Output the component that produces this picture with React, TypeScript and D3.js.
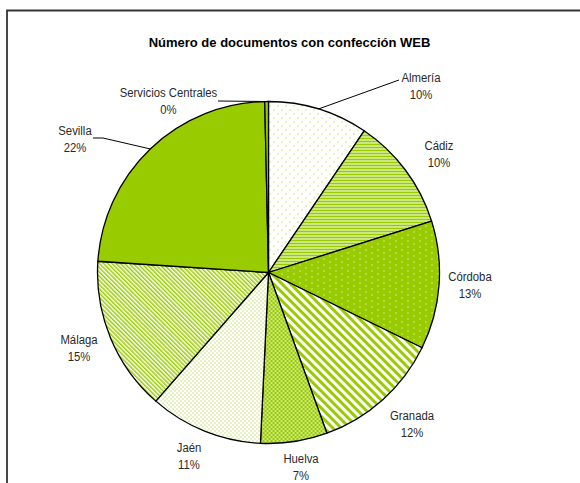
import React from "react";
import * as d3 from "d3";

const categories = ["Almería", "Cádiz", "Córdoba", "Granada", "Huelva", "Jaén", "Málaga", "Sevilla", "Servicios Centrales"];
const values = [9.45, 10.7, 12.1, 12.2, 6.3, 10.7, 14.6, 23.6, 0.35];
const percentLabels = ["10%", "10%", "13%", "12%", "7%", "11%", "15%", "22%", "0%"];
const fills = ["url(#dotsSparse)", "url(#hLines)", "url(#dotsWhite)", "url(#wideDiag)", "url(#dashWhite)", "url(#dotsDense)", "url(#narrowDiag)", "#99cc00", "#99cc00"];
const title = "Número de documentos con confección WEB";

// label layout: [center x, first baseline y]
const labelPos: [number, number][] = [
  [421, 82], [439, 150], [470, 281], [412, 420], [301, 463], [189, 452], [79, 344], [75, 135], [168.5, 97],
];
// leader lines: slice index -> extra points after the arc point
const leaders: { i: number; pts: [number, number][] }[] = [
  { i: 0, pts: [[399, 80]] },
  { i: 7, pts: [[103, 138], [93, 138]] },
  { i: 8, pts: [[218, 101]] },
];

const G = "#99cc00";
const W = 580, H = 483;
const cx = 268.5, cy = 272.5, R = 171;

export default function App() {
  const pie = d3.pie<number>().sort(null).startAngle(0).endAngle(2 * Math.PI);
  const arcs = pie(values);
  const arc = d3.arc<d3.PieArcDatum<number>>().innerRadius(0).outerRadius(R);
  const labelFont = "'Liberation Sans', Arial, sans-serif";
  return (
    <svg width={W} height={H} style={{ position: "absolute", left: 0, top: 0, background: "#fff" }}>
      <defs>
        <pattern id="dotsSparse" patternUnits="userSpaceOnUse" width="8" height="8">
          <rect width="8" height="8" fill="#fff" />
          <rect x="1" y="1" width="1" height="1" fill={G} />
          <rect x="5" y="5" width="1" height="1" fill={G} />
        </pattern>
        <pattern id="hLines" patternUnits="userSpaceOnUse" width="4" height="3">
          <rect width="4" height="3" fill="#fff" />
          <rect width="4" height="2" fill={G} />
        </pattern>
        <pattern id="dotsWhite" patternUnits="userSpaceOnUse" width="12" height="6">
          <rect width="12" height="6" fill={G} />
          <rect x="1" y="1" width="1" height="1" fill="#fff" />
          <rect x="7" y="4" width="1" height="1" fill="#fff" />
        </pattern>
        <pattern id="wideDiag" patternUnits="userSpaceOnUse" width="6" height="6" patternTransform="rotate(-45)">
          <rect width="6" height="6" fill="#fff" />
          <rect width="3" height="6" fill={G} />
        </pattern>
        <pattern id="dashWhite" patternUnits="userSpaceOnUse" width="4" height="4">
          <rect width="4" height="4" fill={G} />
          <rect x="0" y="0" width="2" height="1" fill="#fff" />
          <rect x="2" y="2" width="2" height="1" fill="#fff" />
        </pattern>
        <pattern id="dotsDense" patternUnits="userSpaceOnUse" width="4" height="4">
          <rect width="4" height="4" fill="#fff" />
          <rect x="0" y="0" width="1" height="1" fill={G} />
          <rect x="2" y="2" width="1" height="1" fill={G} />
        </pattern>
        <pattern id="narrowDiag" patternUnits="userSpaceOnUse" width="3" height="3" patternTransform="rotate(-45)">
          <rect width="3" height="3" fill="#fff" />
          <rect width="1.5" height="3" fill={G} />
        </pattern>
      </defs>
      <path d={`M7,${H} V10.5 H${W}`} fill="none" stroke="#333" strokeWidth={1.8} />
      <text x={289.5} y={47} textAnchor="middle" fontFamily="'Liberation Sans', Arial, sans-serif" fontWeight="bold" fontSize={13} fill="#000">
        {title}
      </text>
      <g transform={`translate(${cx},${cy})`}>
        {arcs.map((a, i) => (
          <path key={categories[i]} d={arc(a) || ""} fill={fills[i]} stroke="#000" strokeWidth={1.3} strokeLinejoin="round" />
        ))}
      </g>
      {leaders.map((l) => {
        const a = arcs[l.i];
        const mid = (a.startAngle + a.endAngle) / 2;
        const sx = cx + R * Math.sin(mid);
        const sy = cy - R * Math.cos(mid);
        const pts = [[sx, sy], ...l.pts];
        return <polyline key={l.i} points={pts.map((p) => p.join(",")).join(" ")} fill="none" stroke="#000" strokeWidth={1} />;
      })}
      {categories.map((c, i) => (
        <g key={c} transform={`translate(${labelPos[i][0]},${labelPos[i][1]}) scale(0.84,1)`}>
          <text x={0} y={0} textAnchor="middle" fontFamily={labelFont} fontSize={13.5} fill="#2a2a2a">
            <tspan x={0}>{c}</tspan>
            <tspan x={0} dy={17.5}>{percentLabels[i]}</tspan>
          </text>
        </g>
      ))}
    </svg>
  );
}
